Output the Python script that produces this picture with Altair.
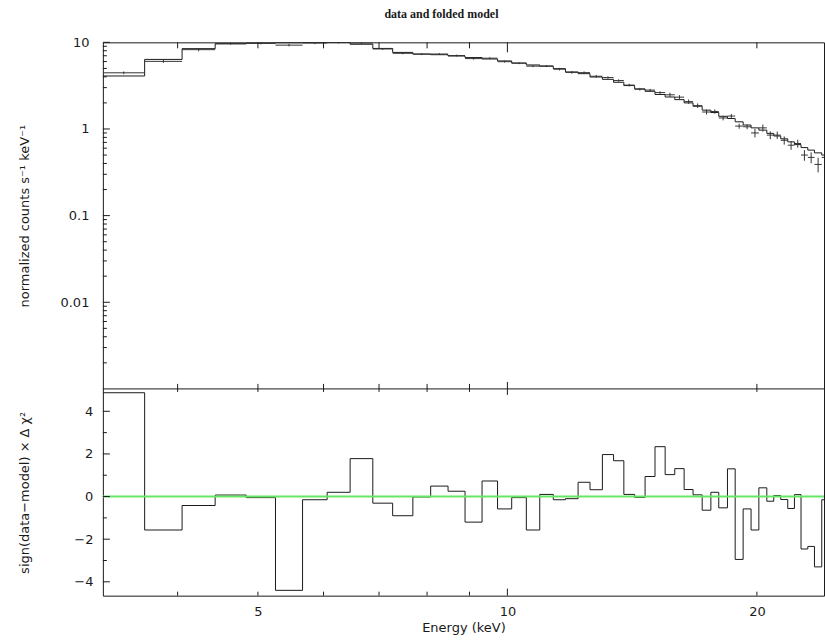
import altair as alt
import numpy as np
import pandas as pd

# Spectral bins: channel edges (keV), folded model, data, 1-sigma errors,
# and signed delta-chi^2 residuals per bin.
edges = [3.25, 3.65, 4.05, 4.44, 4.84, 5.25, 5.66, 6.06, 6.46, 6.88, 7.27,
         7.69, 8.08, 8.48, 8.89, 9.32, 9.73, 10.12, 10.54, 10.94, 11.36,
         11.75, 12.17, 12.58, 13.02, 13.43, 13.82, 14.24, 14.66, 15.07, 15.50,
         15.92, 16.34, 16.75, 17.18, 17.60, 17.99, 18.43, 18.83, 19.25, 19.68,
         20.11, 20.56, 20.96, 21.37, 21.79, 22.20, 22.61, 23.04, 23.47, 23.95,
         24.45]

model = [4.09, 6.35, 8.45, 9.60, 9.80, 9.90, 9.95, 9.95, 9.50, 8.50,
         7.65, 7.33, 7.20, 6.95, 6.67, 6.42, 6.10, 5.77, 5.48, 5.30,
         4.97, 4.55, 4.35, 3.98, 3.74, 3.46, 3.17, 2.90, 2.72, 2.50,
         2.34, 2.18, 2.00, 1.83, 1.65, 1.55, 1.40, 1.32, 1.21, 1.11,
         1.03, 0.97, 0.89, 0.83, 0.77, 0.71, 0.66, 0.61, 0.57, 0.53, 0.50]

counts = [4.45, 6.03, 8.23, 9.68, 9.74, 9.28, 9.83, 9.98, 9.82, 8.38,
          7.47, 7.30, 7.33, 7.04, 6.49, 6.56, 5.98, 5.74, 5.31, 5.34,
          4.90, 4.50, 4.47, 4.06, 3.92, 3.62, 3.21, 2.88, 2.81, 2.63,
          2.48, 2.33, 2.07, 1.86, 1.57, 1.59, 1.34, 1.41, 1.08, 1.06,
          0.90, 1.03, 0.85, 0.85, 0.74, 0.65, 0.68, 0.50, 0.47, 0.39, 0.47]

errors = [0.16, 0.25, 0.34, 0.29, 0.29, 0.30, 0.30, 0.30, 0.24, 0.21,
          0.19, 0.18, 0.18, 0.17, 0.17, 0.16, 0.15, 0.14, 0.14, 0.13,
          0.17, 0.16, 0.15, 0.14, 0.13, 0.12, 0.11, 0.10, 0.095, 0.088,
          0.14, 0.13, 0.12, 0.11, 0.10, 0.093, 0.084, 0.079, 0.073, 0.067,
          0.10, 0.097, 0.089, 0.083, 0.080, 0.075, 0.072, 0.070, 0.068, 0.075,
          0.070]

resid = [4.87, -1.57, -0.42, 0.07, -0.05, -4.40, -0.15, 0.20, 1.78, -0.31,
         -0.90, -0.02, 0.49, 0.25, -1.20, 0.73, -0.58, -0.05, -1.57, 0.10,
         -0.15, -0.10, 0.67, 0.32, 1.97, 1.68, 0.10, -0.04, 0.94, 2.34,
         1.03, 1.31, 0.33, 0.08, -0.64, 0.20, -0.53, 1.30, -2.95, -0.58,
         -1.57, 0.41, -0.22, 0.05, -0.14, -0.56, 0.09, -2.46, -2.34, -3.30,
         -0.15]

# Axis ranges and tick positions
E_RANGE = [3.25, 24.1]
TOP_RANGE = [0.001, 10]
BOT_RANGE = [-4.65, 5.05]
energy_labels = [5, 10, 20]
energy_minor = [4, 5, 6, 7, 8, 9, 20]
energy_major = [10]
top_major = [0.01, 0.1, 1, 10]
top_mantissas = [2, 3, 4, 5, 6, 7, 8, 9]
top_decades = [0.001, 0.01, 0.1, 1]
bot_major = [-4, -2, 0, 2, 4]
bot_minor = [-3, -1, 1, 3]

# One frame holds both panels: the spectrum on top, residuals below.
W, H_TOP, H_BOT = 722, 347, 207
H_ALL = H_TOP + H_BOT
INK = "#1a1a1a"
GREEN = "#66e866"
SANS = "DejaVu Sans"

bins = pd.DataFrame({
    "lo": edges[:-1], "hi": edges[1:], "model": model,
    "counts": counts, "err": errors, "resid": resid,
})
bins["mid"] = np.sqrt(bins["lo"] * bins["hi"])
bins["c_lo"] = bins["counts"] - bins["err"]
bins["c_hi"] = bins["counts"] + bins["err"]

model_steps = pd.DataFrame({"e": edges, "v": model + [model[-1]]})
resid_steps = pd.DataFrame({"e": edges, "v": resid + [resid[-1]]})

x_scale = alt.Scale(type="log", domain=E_RANGE, nice=False)
top_scale = alt.Scale(type="log", domain=TOP_RANGE, nice=False, range=[H_TOP, 0])
bot_scale = alt.Scale(domain=BOT_RANGE, nice=False, zero=False, range=[H_ALL, H_TOP])

# Guides carry labels and titles only; tick marks are drawn inside the frame.
GUIDE = dict(ticks=False, domain=False, grid=False, tickSize=0)
energy_axis = alt.Axis(
    values=energy_labels, format="d", title="Energy (keV)",
    labelPadding=10, titlePadding=3, labelFlush=False, **GUIDE,
)
top_y_axis = alt.Axis(
    orient="left", values=top_major, format="~g",
    title="normalized counts s⁻¹ keV⁻¹",
    labelPadding=14, titleX=-74.5, titleY=H_TOP / 2, titleAngle=270,
    titleAlign="center", titleBaseline="alphabetic", **GUIDE,
)
bot_y_axis = alt.Axis(
    orient="left", values=bot_major, format="d",
    title="sign(data−model) × Δ χ²",
    labelPadding=10, titleX=-74.5, titleY=H_TOP + H_BOT / 2, titleAngle=270,
    titleAlign="center", titleBaseline="alphabetic", **GUIDE,
)
X = dict(scale=x_scale, axis=energy_axis)


def x_ticks(values, y_from, y_to):
    src = pd.DataFrame({"e": values})
    return alt.Chart(src).mark_rule(color=INK, strokeWidth=1).encode(
        x=alt.X("e:Q", **X), y=alt.value(y_from), y2=alt.value(y_to),
    )


def y_ticks(values, length, scale):
    # rule anchored on the left edge of the energy scale, extended inward
    src = pd.DataFrame({"v": values})
    return alt.Chart(src).mark_rule(
        color=INK, strokeWidth=1, x2Offset=length
    ).encode(
        y=alt.Y("v:Q", scale=scale, axis=None),
        x=alt.X(datum=E_RANGE[0], **X), x2=alt.X2(datum=E_RANGE[0]),
    )


# ---- spectrum: folded model (steps) and data crosses ----
model_line = alt.Chart(model_steps).mark_line(
    interpolate="step-after", color=INK, strokeWidth=1, clip=True
).encode(
    x=alt.X("e:Q", **X),
    y=alt.Y("v:Q", scale=top_scale, axis=top_y_axis),
)

data_h = alt.Chart(bins).mark_rule(color="#333333", strokeWidth=1, clip=True).encode(
    x=alt.X("lo:Q", **X), x2="hi:Q",
    y=alt.Y("counts:Q", scale=top_scale, axis=top_y_axis),
)

data_v = alt.Chart(bins).mark_rule(color="#333333", strokeWidth=1, clip=True).encode(
    x=alt.X("mid:Q", **X),
    y=alt.Y("c_lo:Q", scale=top_scale, axis=top_y_axis), y2="c_hi:Q",
)

spectrum = alt.layer(model_line, data_h, data_v)

# ---- residuals ----
resid_line = alt.Chart(resid_steps).mark_line(
    interpolate="step-after", color=INK, strokeWidth=1, clip=True
).encode(
    x=alt.X("e:Q", **X),
    y=alt.Y("v:Q", scale=bot_scale, axis=bot_y_axis),
)

zero_line = alt.Chart(pd.DataFrame({"v": [0]})).mark_rule(
    color=GREEN, strokeWidth=2
).encode(
    y=alt.Y("v:Q", scale=bot_scale, axis=bot_y_axis),
    x=alt.value(0), x2=alt.value(W),
)

residuals = alt.layer(resid_line, zero_line)

# ---- left-edge ticks for both panels ----
top_minor = [m * d for d in top_decades for m in top_mantissas]
left_ticks = [
    y_ticks(top_major, 7, top_scale), y_ticks(top_minor, 4, top_scale),
    y_ticks(bot_major, 7, bot_scale), y_ticks(bot_minor, 4, bot_scale),
]

# ---- frame divider and energy ticks on every horizontal edge ----
divider = alt.Chart(pd.DataFrame({"e": E_RANGE})).mark_rule(
    color=INK, strokeWidth=1
).encode(
    x=alt.X("min(e):Q", **X), x2="max(e):Q", y=alt.value(H_TOP),
)

edge_ticks = [
    x_ticks(energy_minor, 0, 6), x_ticks(energy_major, 0, 10),
    x_ticks(energy_minor, H_TOP - 5, H_TOP + 3),
    x_ticks(energy_major, H_TOP - 7, H_TOP + 6),
    x_ticks(energy_minor, H_ALL - 4, H_ALL),
    x_ticks(energy_major, H_ALL - 7, H_ALL),
]

chart = alt.layer(
    spectrum, residuals, *left_ticks, divider, *edge_ticks
).resolve_scale(
    y="independent"
).properties(
    width=W, height=H_ALL,
    title=alt.TitleParams(
        text="data and folded model", font="Liberation Serif", fontSize=12,
        fontWeight="bold", color=INK, anchor="middle", dx=-22, offset=15,
    ),
    padding={"left": 18, "top": 8, "right": 0, "bottom": 0},
).configure_view(
    stroke=INK, strokeWidth=1
).configure_axis(
    labelFont=SANS, titleFont=SANS, labelFontSize=13, titleFontSize=13,
    labelColor=INK, titleColor=INK, titleFontWeight="normal",
)

chart.save("out.html", embed_options={"renderer": "svg", "actions": False})
